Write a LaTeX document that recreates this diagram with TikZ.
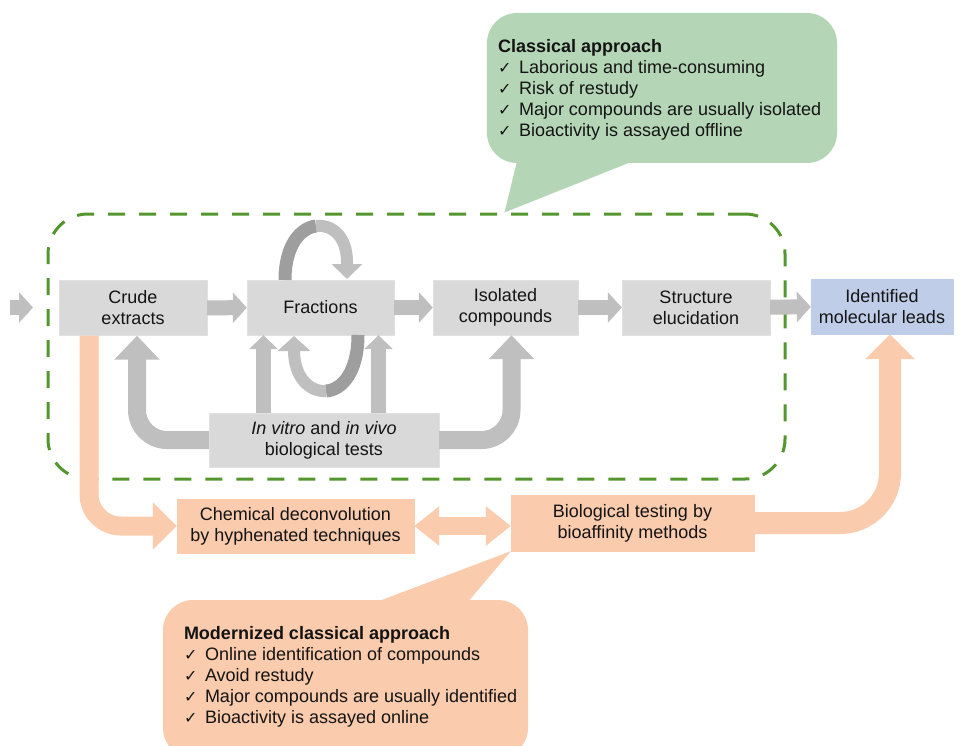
\documentclass[tikz,border=0pt]{standalone}
\usepackage{fontspec}
\setmainfont{Liberation Sans}
\newfontfamily\checkfont{DejaVu Sans}
\usetikzlibrary{arrows.meta}

\definecolor{boxgray}{RGB}{217,217,217}
\definecolor{arrowgray}{RGB}{191,191,191}
\definecolor{loopgray}{RGB}{158,158,158}
\definecolor{leadblue}{RGB}{191,205,233}
\definecolor{peach}{RGB}{250,203,172}
\definecolor{mint}{RGB}{180,214,182}
\definecolor{dashgreen}{RGB}{84,150,46}
\definecolor{ink}{RGB}{20,20,20}

\newcommand{\chk}{\makebox[21pt][l]{\checkfont\fontsize{16}{16}\selectfont ✓}}

\tikzset{
  box/.style={fill=boxgray, draw=boxgray!80, minimum height=55pt, inner sep=1pt,
    align=center, text=ink, font=\fontsize{18}{21}\selectfont},
  smallarrow/.style={draw=arrowgray, line width=15pt, -{Triangle[width=30pt,length=14pt]}},
  bigarrow/.style={draw=arrowgray, line width=18pt, rounded corners=30pt,
    -{Triangle[width=44pt,length=24pt]}},
  peacharrow/.style={draw=peach, line width=19pt, rounded corners=32pt,
    -{Triangle[width=46pt,length=24pt]}},
  callbox/.style={rounded corners=30pt, inner sep=0pt},
  listtext/.style={anchor=north west, inner sep=0pt, align=left, text=ink,
    font=\fontsize{18}{21}\selectfont}
}

\begin{document}
\begin{tikzpicture}[x=1pt,y=-1pt]

\useasboundingbox (0,0) rectangle (960,746);

% classical frame
\node[draw=dashgreen, line width=3pt, dash pattern=on 17pt off 14pt, rounded corners=40pt,
  minimum width=737pt, minimum height=265pt] (frame) at (416.5,346.5) {};

\node[box, minimum width=148pt] (crude) at (133,308) {Crude\\extracts};
\node[box, minimum width=147pt] (fractions) at (320.5,307.5) {Fractions};
\node[box, minimum width=145pt] (isolated) at (505.5,307.5) {Isolated\\compounds};
\node[box, minimum width=148pt] (structure) at (696,307.5) {Structure\\elucidation};
\node[box, fill=leadblue, draw=leadblue, minimum width=142pt] (leads) at (882,306.5) {Identified\\molecular leads};
\node[box, minimum width=230pt, minimum height=54pt] (vitro) at (324,440) {\textit{In vitro} and \textit{in vivo}\\biological tests};
\node[box, fill=peach, draw=peach, minimum width=237pt, minimum height=54pt] (chem) at (295.5,526) {Chemical deconvolution\\by hyphenated techniques};
\node[box, fill=peach, draw=peach, minimum width=243pt, minimum height=56pt] (bio) at (632.5,523) {Biological testing by\\bioaffinity methods};

% main line
\coordinate (entry) at (10,307.5);
\coordinate (entryend) at (33,307.5);
\draw[smallarrow] (entry) -- (entryend);
\draw[smallarrow] (crude) -- (fractions);
\draw[smallarrow] (fractions) -- (isolated);
\draw[smallarrow] (isolated) -- (structure);
\draw[smallarrow] (structure) -- (leads);

% feedback from the tests
\draw[bigarrow] (vitro.west) -| ([xshift=4pt]crude.south);
\draw[bigarrow] (vitro.east) -| ([xshift=6pt]isolated.south);
\coordinate (fl) at ([xshift=-57pt]fractions.south);
\coordinate (fr) at ([xshift=58pt]fractions.south);
\draw[smallarrow, -{Triangle[width=28pt,length=14pt]}] (fl |- vitro.north) -- (fl);
\draw[smallarrow, -{Triangle[width=28pt,length=14pt]}] (fr |- vitro.north) -- (fr);

% loop round the fractions
\draw[loopgray, line width=13pt] (285,280) .. controls (285,245) and (300.5,228) .. (316,226);
\draw[arrowgray, line width=12pt, -{Triangle[width=30pt,length=15pt]}]
  (316,226) .. controls (331.5,224) and (347,236) .. (347,262) -- (347,279);
\draw[loopgray, line width=13pt] (358,335) .. controls (358,372) and (342,390) .. (326,391);
\draw[arrowgray, line width=12pt, -{Triangle[width=32pt,length=15pt]}]
  (326,391) .. controls (310,392) and (294,378) .. (294,350) -- (294,336);

% modernized route
\draw[peacharrow] ([xshift=-44pt]crude.south) |- (chem.west);
\draw[peacharrow, line width=18pt, {Triangle[width=38pt,length=25pt]}-{Triangle[width=38pt,length=25pt]}]
  (chem.east) -- (chem.east -| bio.west);
\draw[peacharrow, line width=22pt, rounded corners=50pt, -{Triangle[width=48pt,length=25pt]}]
  (bio.east) -| ([xshift=8pt]leads.south);

% callouts
\node[callbox, fill=mint, minimum width=350pt, minimum height=150pt] (classic) at (662,88) {};
\fill[mint] ([xshift=-145pt,yshift=2pt]classic.south) -- ([xshift=88pt]frame.north)
  -- ([xshift=-29pt,yshift=2pt]classic.south) -- cycle;
\node[listtext] (classictext) at ([xshift=11pt,yshift=-26pt]classic.north west)
  {\textbf{Classical approach}\\
   \chk Laborious and time-consuming\\
   \chk Risk of restudy\\
   \chk Major compounds are usually isolated\\
   \chk Bioactivity is assayed offline};

\node[callbox, fill=peach, minimum width=365pt, minimum height=158pt] (modern) at (345.5,679) {};
\fill[peach] ([xshift=31.5pt,yshift=-2pt]modern.north) -- (bio.south west)
  -- ([xshift=122.5pt,yshift=-2pt]modern.north) -- cycle;
\node[listtext] (moderntext) at ([xshift=21pt,yshift=-26pt]modern.north west)
  {\textbf{Modernized classical approach}\\
   \chk Online identification of compounds\\
   \chk Avoid restudy\\
   \chk Major compounds are usually identified\\
   \chk Bioactivity is assayed online};

\end{tikzpicture}
\end{document}
